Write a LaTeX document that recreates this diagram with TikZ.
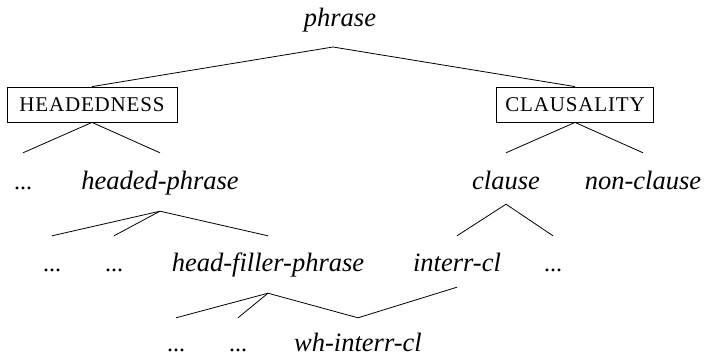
\documentclass[tikz,border=0pt]{standalone}
\usepackage{fontspec}
\setmainfont{Liberation Serif}
\newfontfamily\capsfont[LetterSpace=4]{Liberation Serif}
\begin{document}
\begin{tikzpicture}[x=1pt,y=-1pt,
  lab/.style={font=\fontsize{26.5}{30}\selectfont\itshape, inner sep=0pt, text height=15pt, text depth=5pt},
  dts/.style={font=\fontsize{24}{28}\selectfont, inner sep=0pt, text height=15pt, text depth=5pt},
  featbox/.style={draw, line width=0.8pt, font=\capsfont\fontsize{21}{24}\selectfont, minimum height=35pt, minimum width=#1, inner xsep=4pt, inner ysep=0pt},
  edge/.style={line width=0.8pt}]
\useasboundingbox (0,0) rectangle (707,364);
% level 0
\node[lab] (phrase) at (340,22) {phrase};
\coordinate (pA) at (333,47);
% level 1
\node[featbox=170pt] (head) at (92,104.5) {HEADEDNESS};
\node[featbox=157pt] (claus) at (575,104.5) {CLAUSALITY};
% level 2
\node[dts] (d1) at (23,184) {...};
\node[lab] (hp) at (160,184) {headed-phrase};
\node[lab] (cl) at (506,184) {clause};
\node[lab] (ncl) at (643,184) {non-clause};
% level 3
\node[dts] (d2) at (52,266) {...};
\node[dts] (d3) at (114,266) {...};
\node[lab] (hfp) at (268,266) {head-filler-phrase};
\node[lab] (icl) at (457,266) {interr-cl};
\node[dts] (d4) at (553,266) {...};
% level 4
\node[dts] (d5) at (176,346) {...};
\node[dts] (d6) at (238,346) {...};
\node[lab] (wh) at (358,346) {wh-interr-cl};
% edges
\draw[edge] (head.north) -- (pA) -- (claus.north);
\draw[edge] ([yshift=21pt]d1.north) -- (head.south) -- ([yshift=21pt]hp.north);
\draw[edge] ([yshift=21pt]cl.north) -- (claus.south) -- ([yshift=21pt]ncl.north);
\draw[edge] ([yshift=20pt]d2.north) -- ([yshift=-17pt]hp.south) -- ([yshift=20pt]hfp.north);
\draw[edge] ([yshift=20pt]d3.north) -- ([yshift=-17pt]hp.south);
\draw[edge] ([yshift=20pt]icl.north) -- ([yshift=-10pt]cl.south) -- ([yshift=20pt]d4.north);
\draw[edge] ([yshift=18pt]d5.north) -- ([yshift=-17pt]hfp.south) -- ([yshift=18pt]wh.north) -- ([yshift=-11pt]icl.south);
\draw[edge] ([yshift=18pt]d6.north) -- ([yshift=-17pt]hfp.south);
\end{tikzpicture}
\end{document}
